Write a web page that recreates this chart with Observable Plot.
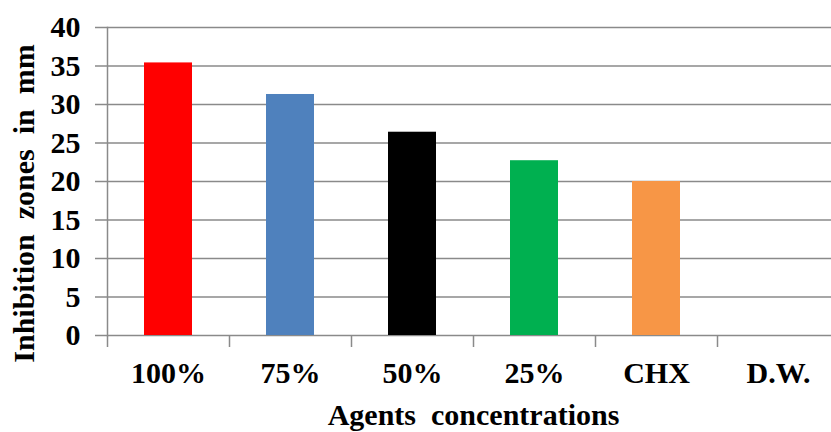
<!DOCTYPE html>
<html>
<head>
<meta charset="utf-8">
<script src="https://cdn.jsdelivr.net/npm/d3@7"></script>
<script src="https://cdn.jsdelivr.net/npm/@observablehq/plot@0.6"></script>
<style>
  html, body { margin: 0; padding: 0; background: #ffffff; }
  #chart { width: 831px; height: 432px; }
  #chart svg, #chart svg text { font-family: "Liberation Serif", "Times New Roman", serif !important; font-weight: bold; }
</style>
</head>
<body>
<div id="chart"></div>
<script>
// ---- data ----
const categories = ["100%", "75%", "50%", "25%", "CHX", "D.W."];
const values = [35.4, 31.3, 26.4, 22.7, 20.0, 0];
const barColors = ["#FF0000", "#4F81BD", "#000000", "#00B050", "#F79646", "#FFFFFF"];
const yTicks = [0, 5, 10, 15, 20, 25, 30, 35, 40];
const xTitle = "Agents\u00A0\u00A0concentrations";
const yTitle = "Inhibition\u00A0\u00A0zones\u00A0\u00A0in\u00A0\u00A0mm";

// ---- layout ----
const W = 831, H = 432;
const mLeft = 107, mTop = 27, mBottom = 97;
const xRange = [107, 839];
const step = (xRange[1] - xRange[0]) / categories.length;
const gridColor = "#8a8a8a";
const font = "Liberation Serif";

const table = categories.map((c, i) => ({category: c, value: values[i], color: barColors[i]}));

const chart = Plot.plot({
  width: W,
  height: H,
  marginLeft: mLeft,
  marginRight: 0,
  marginTop: mTop,
  marginBottom: mBottom,
  style: {fontFamily: font, fontWeight: "bold", fontSize: "30px", color: "#000", background: "#fff"},
  x: {domain: categories, range: xRange, padding: 0, axis: null},
  y: {domain: [0, 40], axis: null},
  color: {type: "identity"},
  marks: [
    Plot.gridY({ticks: yTicks, stroke: gridColor, strokeOpacity: 1, strokeWidth: 1.5}),
    Plot.axisY({ticks: yTicks, tickSize: 12, tickPadding: 15, stroke: gridColor, strokeWidth: 1.5, strokeOpacity: 1, fill: "#000", label: null, fontSize: 30, fontWeight: "bold", fontFamily: font}),
    Plot.frame({anchor: "left", stroke: gridColor, strokeWidth: 1.5}),
    Plot.ruleX(categories, {x: d => d, dx: -step / 2, y1: 0, y2: 0, insetBottom: -12, stroke: gridColor, strokeWidth: 1.5}),
    Plot.barY(table, {x: "category", y: "value", fill: "color", insetLeft: 37, insetRight: 37}),
    Plot.axisX({tickSize: 0, tickPadding: 26, label: null, fontSize: 30, fontWeight: "bold", fontFamily: font, fill: "#000"}),
    Plot.text([xTitle], {frameAnchor: "bottom", dx: 473 - (mLeft + W) / 2, dy: 80, fontSize: 30, fontWeight: "bold", fontFamily: font, fill: "#000", textAnchor: "middle", lineAnchor: "middle"}),
    Plot.text([yTitle], {frameAnchor: "left", rotate: -90, dx: -83, dy: 22, fontSize: 30, fontWeight: "bold", fontFamily: font, fill: "#000", textAnchor: "middle", lineAnchor: "middle"})
  ]
});

document.getElementById("chart").appendChild(chart);
</script>
</body>
</html>
